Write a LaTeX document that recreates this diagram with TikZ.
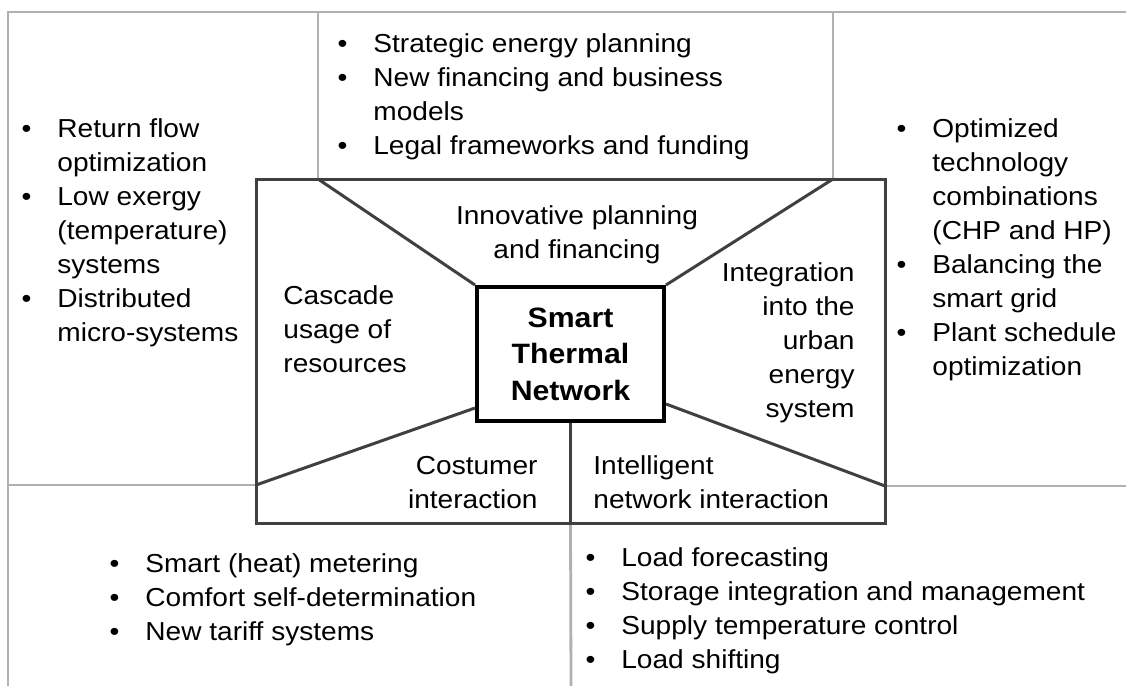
\documentclass[tikz,border=0pt]{standalone}
\usepackage{fontspec}
\setmainfont{Liberation Sans}[FakeStretch=1.08]
\usetikzlibrary{positioning}

\definecolor{gridgray}{RGB}{176,176,176}
\definecolor{framegray}{RGB}{64,64,64}
\newcommand{\bitem}{\leavevmode\llap{\textbullet\hspace{13pt}}}

\begin{document}
\begin{tikzpicture}[x=0.5pt,y=-0.5pt,
  grid line/.style={draw=gridgray,line width=1.4pt},
  frame line/.style={draw=framegray,line width=1.5pt},
  area text/.style={inner sep=0pt,font=\fontsize{13}{17}\selectfont},
  bullets/.style={area text,align=left,anchor=north west},
  core/.style={draw=black,line width=2pt,inner sep=0pt,align=center,
    minimum width=93.5pt,minimum height=67pt,
    font=\fontsize{14}{18.25}\selectfont\bfseries}]
\useasboundingbox (0,0) rectangle (1126,686);

% outer frame and the dividing points on it
\coordinate (onw) at (256,179);
\coordinate (ose) at (885,523);
\coordinate (tl) at (318,179);
\coordinate (tr) at (833,179);
\coordinate (ml) at (256,485);
\coordinate (mr) at (885,486);

% light grid round the frame
\draw[grid line] (1126,12) -- (8,12) -- (8,686);
\draw[grid line] (318,12) -- (tl);
\draw[grid line] (833,12) -- (tr);
\draw[grid line] (8,485) -- (ml);
\draw[grid line] (mr) -- (1126,486);

\node[core] (stn) at (570.5,354) {Smart\\Thermal\\Network};
\draw[grid line] (stn.south |- ose) -- (571,686);

% frame and the five sectors
\draw[frame line] (onw) rectangle (ose);
\draw[frame line] (tl) -- (stn.north west);
\draw[frame line] (tr) -- (stn.north east);
\draw[frame line] (ml) -- ([yshift=7.5pt]stn.south west);
\draw[frame line] (mr) -- ([yshift=9.5pt]stn.south east);
\draw[frame line] (stn.south) -- (stn.south |- ose);

% sector titles
\node[area text,align=center,anchor=north] (plan) at (577,200)
  {\strut Innovative planning\\and financing};
\node[area text,align=left,anchor=north west] (casc) at (283,280)
  {\strut Cascade\\usage of\\resources};
\node[area text,align=right,anchor=north east] (urban) at (855,257)
  {\strut Integration\\into the\\urban\\energy\\system};
\node[area text,align=right,anchor=north east] (cust) at (538,450)
  {\strut Costumer\\interaction};
\node[area text,align=left,anchor=north west] (intel) at (593,450)
  {\strut Intelligent\\network interaction};

% measures around the frame
\node[bullets] (left) at (57,113)
  {\bitem\strut Return flow\\optimization\\
   \bitem Low exergy\\(temperature)\\systems\\
   \bitem Distributed\\micro-systems};
\node[bullets] (top) at (373,28)
  {\bitem\strut Strategic energy planning\\
   \bitem New financing and business\\models\\
   \bitem Legal frameworks and funding};
\node[bullets] (right) at (932,113)
  {\bitem\strut Optimized\\technology\\combinations\\(CHP and HP)\\
   \bitem Balancing the\\smart grid\\
   \bitem Plant schedule\\optimization};
\node[bullets] (botl) at (145,548)
  {\bitem\strut Smart (heat) metering\\
   \bitem Comfort self-determination\\
   \bitem New tariff systems};
\node[bullets] (botr) at (621,542)
  {\bitem\strut Load forecasting\\
   \bitem Storage integration and management\\
   \bitem Supply temperature control\\
   \bitem Load shifting};
\end{tikzpicture}
\end{document}
